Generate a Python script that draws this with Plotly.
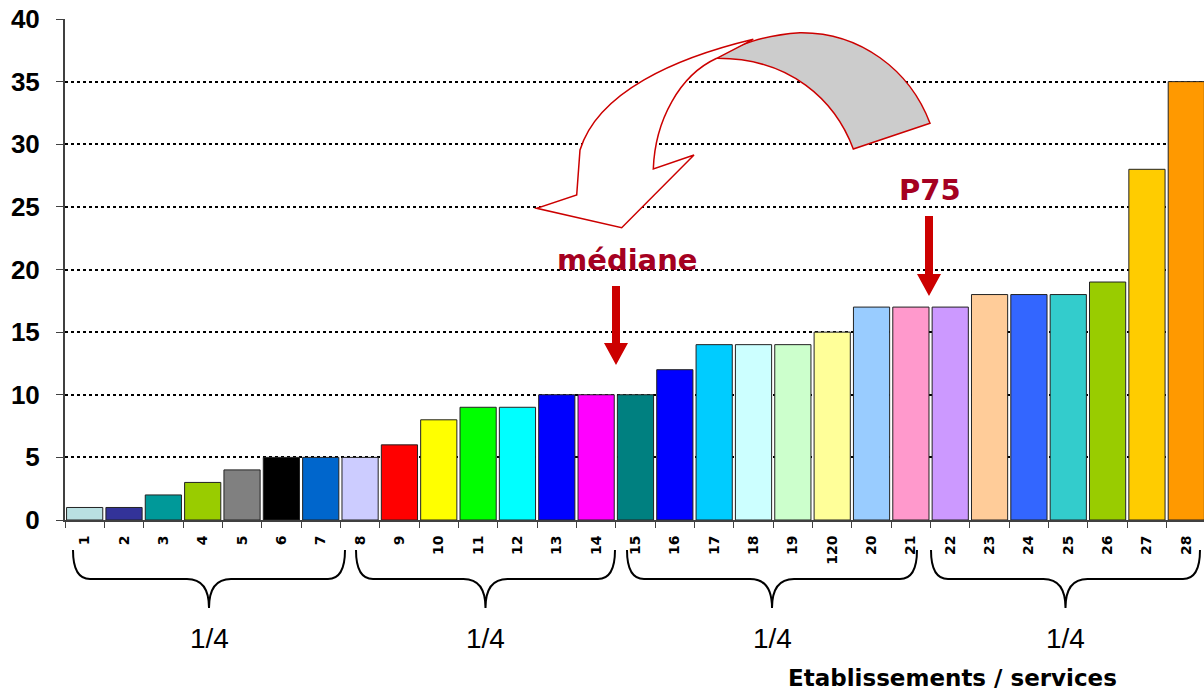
import plotly.graph_objects as go

# Establishments / services, sorted by value
categories = ["1", "2", "3", "4", "5", "6", "7", "8", "9", "10", "11", "12", "13", "14",
              "15", "16", "17", "18", "19", "120", "20", "21", "22", "23", "24", "25",
              "26", "27", "28"]
values = [1, 1, 2, 3, 4, 5, 5, 5, 6, 8, 9, 9, 10, 10, 10, 12, 14, 14, 14, 15, 17, 17,
          17, 18, 18, 18, 19, 28, 35]
bar_colors = ["#B9E0E2", "#333399", "#009999", "#99CC00", "#808080", "#000000", "#0066CC",
              "#CCCCFF", "#FF0000", "#FFFF00", "#00FF00", "#00FFFF", "#0000FF", "#FF00FF",
              "#008080", "#0000FF", "#00CCFF", "#CCFFFF", "#CCFFCC", "#FFFF99", "#99CCFF",
              "#FF99CC", "#CC99FF", "#FFCC99", "#3366FF", "#33CCCC", "#99CC00", "#FFCC00",
              "#FF9900"]
y_ticks = [0, 5, 10, 15, 20, 25, 30, 35, 40]
quarter_label = "1/4"
x_title = "Etablissements / services"

W, H = 1204, 691
ML, MR, MT, MB = 65, 0, 19, 171
PW, PH = W - ML - MR, H - MT - MB


def px(x):
    return (x - ML) / PW


def py(y):
    return (H - MB - y) / PH


def pt(x, y):
    return f"{px(x):.5f},{py(y):.5f}"


fig = go.Figure(go.Bar(
    x=categories, y=values,
    marker=dict(color=bar_colors, line=dict(color="#222222", width=1)),
    hoverinfo="skip",
))

shapes = []
annotations = []

# Curly braces grouping the quartiles
def brace(xl, xr, y0=550, y1=579, y2=608, re=17, rc=22):
    xc = (xl + xr) / 2
    d = (f"M {pt(xl, y0)} Q {pt(xl, y1)} {pt(xl + re, y1)} "
         f"L {pt(xc - rc, y1)} Q {pt(xc, y1)} {pt(xc, y2)} "
         f"Q {pt(xc, y1)} {pt(xc + rc, y1)} "
         f"L {pt(xr - re, y1)} Q {pt(xr, y1)} {pt(xr, y0)}")
    return dict(type="path", path=d, xref="paper", yref="paper",
                line=dict(color="black", width=2), layer="above")


for xl, xr in [(73, 345), (356, 615), (627, 917), (931, 1200)]:
    shapes.append(brace(xl, xr))
    annotations.append(dict(text=quarter_label, x=px((xl + xr) / 2), y=py(638),
                            xref="paper", yref="paper", showarrow=False,
                            xanchor="center", yanchor="middle",
                            font=dict(family="Liberation Sans, Arial", size=28, color="black")))

# Straight red arrows pointing at the median and P75
def down_arrow(xc, ytop, ybot, shaft=8, head_w=24, head_h=22):
    yh = ybot - head_h
    d = (f"M {pt(xc - shaft / 2, ytop)} L {pt(xc + shaft / 2, ytop)} "
         f"L {pt(xc + shaft / 2, yh)} L {pt(xc + head_w / 2, yh)} "
         f"L {pt(xc, ybot)} L {pt(xc - head_w / 2, yh)} "
         f"L {pt(xc - shaft / 2, yh)} Z")
    return dict(type="path", path=d, xref="paper", yref="paper",
                fillcolor="#CC0000", line=dict(width=0), layer="above")


shapes.append(down_arrow(616, 286, 365))
shapes.append(down_arrow(929, 216, 296))

# Curved ribbon arrow: grey back face
back = (f"M {pt(716.7, 58.3)} C {pt(735, 45)} {pt(765, 35)} {pt(800, 32.7)} "
        f"C {pt(860, 32)} {pt(910, 70)} {pt(930, 123.3)} "
        f"L {pt(853.3, 149)} "
        f"C {pt(835, 100)} {pt(790, 58)} {pt(716.7, 58.3)} Z")
shapes.append(dict(type="path", path=back, xref="paper", yref="paper",
                   fillcolor="#CCCCCC", line=dict(color="#CC0000", width=1.5), layer="above"))

# Curved ribbon arrow: white front face with head
front = (f"M {pt(753.3, 39.3)} "
         f"C {pt(675, 58)} {pt(598, 92)} {pt(580, 150)} "
         f"L {pt(576.7, 195)} L {pt(536.7, 208.3)} L {pt(621.7, 227.7)} "
         f"L {pt(694, 155)} L {pt(653.3, 169)} "
         f"C {pt(655, 120)} {pt(680, 75)} {pt(716.7, 58.3)} Z")
shapes.append(dict(type="path", path=front, xref="paper", yref="paper",
                   fillcolor="white", line=dict(color="#CC0000", width=1.5), layer="above"))

# Labels for the arrows
label_font = dict(family="DejaVu Sans", size=29, color="#A50021", weight="bold")
annotations.append(dict(text="médiane", x=px(627), y=py(260), xref="paper", yref="paper",
                        showarrow=False, xanchor="center", yanchor="middle", font=label_font))
annotations.append(dict(text="P75", x=px(930), y=py(190), xref="paper", yref="paper",
                        showarrow=False, xanchor="center", yanchor="middle", font=label_font))

annotations.append(dict(text=x_title, x=px(952), y=py(678), xref="paper", yref="paper",
                        showarrow=False, xanchor="center", yanchor="middle",
                        font=dict(family="DejaVu Sans", size=23, color="black", weight="bold")))

fig.update_layout(
    width=W, height=H,
    margin=dict(l=ML, r=MR, t=MT, b=MB, pad=0),
    paper_bgcolor="white", plot_bgcolor="white",
    showlegend=False,
    bargap=0.08,
    shapes=shapes,
    annotations=annotations,
    xaxis=dict(
        type="category", range=[-0.5, 28.45],
        tickangle=-90, tickson="boundaries",
        ticks="outside", ticklen=6, tickcolor="#404040", tickwidth=1,
        ticklabelstandoff=8,
        showline=True, linecolor="#404040", linewidth=2,
        showgrid=False, zeroline=False,
        tickfont=dict(family="DejaVu Sans", size=14, color="black", weight="bold"),
    ),
    yaxis=dict(
        range=[0, 40], tickvals=y_ticks,
        ticks="outside", ticklen=7, tickcolor="#404040", tickwidth=1,
        ticklabelstandoff=11,
        showline=True, linecolor="#404040", linewidth=2,
        showgrid=True, gridcolor="black", gridwidth=2, griddash="dot",
        zeroline=False,
        tickfont=dict(family="Liberation Sans, Arial", size=26, color="black", weight="bold"),
    ),
)

fig.write_html("out.html")
